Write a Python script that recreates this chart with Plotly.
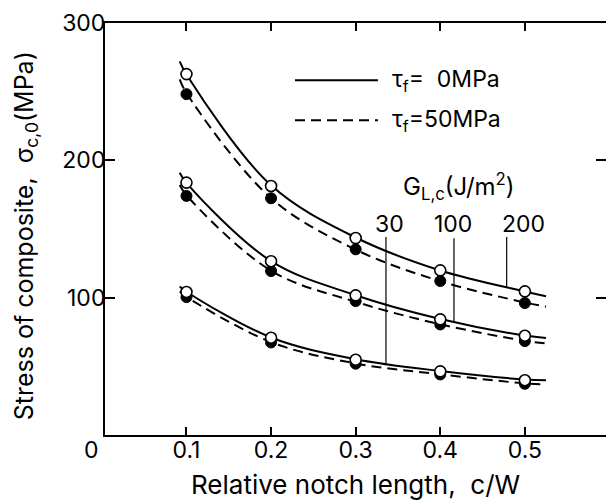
import plotly.graph_objects as go

# ---- data ----
x_pts = [0.1, 0.2, 0.3, 0.4, 0.5]
g200_tau0 = [262.8, 181.3, 143.4, 119.9, 104.6]
g200_tau50 = [248.2, 172.4, 135.2, 112.1, 96.1]
g100_tau0 = [183.8, 126.5, 101.7, 84.2, 72.3]
g100_tau50 = [174.1, 119.4, 97.5, 80.5, 68.4]
g30_tau0 = [104.1, 70.8, 54.8, 46.3, 39.9]
g30_tau50 = [100.4, 67.4, 51.9, 44.1, 37.3]

x_curve = [0.092, 0.1, 0.2, 0.3, 0.4, 0.5, 0.525]
c200_tau0 = [272.0, 262.5, 181.8, 143.8, 119.8, 104.5, 101.0]
c200_tau50 = [259.0, 249.0, 172.4, 135.0, 112.0, 96.5, 93.5]
c100_tau0 = [191.0, 183.6, 126.6, 101.8, 84.5, 72.4, 70.6]
c100_tau50 = [182.0, 174.6, 119.6, 97.0, 80.6, 68.6, 66.7]
c30_tau0 = [108.2, 104.3, 71.0, 55.2, 46.6, 40.4, 39.8]
c30_tau50 = [104.4, 100.6, 67.6, 52.1, 44.2, 37.6, 36.8]

x_ticks = [0.1, 0.2, 0.3, 0.4, 0.5]
x_ticktext = ["0.1", "0.2", "0.3", "0.4", "0.5"]
y_ticks = [100, 200, 300]
y_ticktext = ["100", "200", "300"]

g_labels = ["30", "100", "200"]
g_label_x = [0.3405, 0.4150, 0.4978]
g_label_y = 153.9
g_leader_x = [0.3358, 0.4162, 0.4785]
g_leader_top = [144.2, 143.2, 144.2]
g_leader_bottom = [51.9, 82.2, 107.7]

legend_labels = ["τ<sub>f</sub>=  0MPa", "τ<sub>f</sub>=50MPa"]
legend_dash = ["solid", "10px,6px"]
legend_y = [258.4, 229.2]
legend_x = [0.2283, 0.3263]
legend_text_x = 0.3405

FONT = "Inter, Liberation Sans, Arial, sans-serif"
DASH = "10px,6px"

fig = go.Figure()

curves = [
    (c200_tau0, "solid"), (c200_tau50, DASH),
    (c100_tau0, "solid"), (c100_tau50, DASH),
    (c30_tau0, "solid"), (c30_tau50, DASH),
]
for ys, dash in curves:
    fig.add_trace(go.Scatter(x=x_curve, y=ys, mode="lines",
                             line=dict(color="black", width=2, dash=dash, shape="spline"),
                             showlegend=False, hoverinfo="skip"))

# leader lines for G labels
for lx, top, bot in zip(g_leader_x, g_leader_top, g_leader_bottom):
    fig.add_trace(go.Scatter(x=[lx, lx], y=[top, bot], mode="lines",
                             line=dict(color="black", width=1.2),
                             showlegend=False, hoverinfo="skip"))

# legend sample lines
for ly, dash in zip(legend_y, legend_dash):
    fig.add_trace(go.Scatter(x=legend_x, y=[ly, ly], mode="lines",
                             line=dict(color="black", width=2, dash=dash),
                             showlegend=False, hoverinfo="skip"))

# filled markers (tau_f = 50 MPa)
for ys in [g200_tau50, g100_tau50, g30_tau50]:
    fig.add_trace(go.Scatter(x=x_pts, y=ys, mode="markers",
                             marker=dict(symbol="circle", size=11, color="black",
                                         line=dict(color="black", width=1)),
                             showlegend=False))
# open markers (tau_f = 0 MPa)
for ys in [g200_tau0, g100_tau0, g30_tau0]:
    fig.add_trace(go.Scatter(x=x_pts, y=ys, mode="markers",
                             marker=dict(symbol="circle", size=11, color="white",
                                         line=dict(color="black", width=1.6)),
                             showlegend=False))

# invisible trace for the right-hand tick axis
fig.add_trace(go.Scatter(x=[x_pts[0]], y=[y_ticks[0]], yaxis="y2", mode="markers",
                         marker=dict(opacity=0), showlegend=False, hoverinfo="skip"))

annotations = []
for t, ly in zip(legend_labels, legend_y):
    annotations.append(dict(x=legend_text_x, y=ly, xref="x", yref="y", text=t,
                            showarrow=False, xanchor="left", yanchor="middle",
                            font=dict(family=FONT, size=23, color="black")))
for t, lx in zip(g_labels, g_label_x):
    annotations.append(dict(x=lx, y=g_label_y, xref="x", yref="y", text=t,
                            showarrow=False, xanchor="center", yanchor="middle",
                            font=dict(family=FONT, size=23, color="black")))
annotations.append(dict(x=0.4222, y=180.8, xref="x", yref="y",
                        text="G<sub>L,c</sub>(J/m<sup>2</sup>)",
                        showarrow=False, xanchor="center", yanchor="middle",
                        font=dict(family=FONT, size=24, color="black")))
annotations.append(dict(x=-0.0265, y=-0.0376, xref="paper", yref="paper", text="0",
                        showarrow=False, xanchor="center", yanchor="middle",
                        font=dict(family=FONT, size=23, color="black")))
annotations.append(dict(x=0.3003, y=-0.1638, xref="x", yref="paper",
                        text="Relative notch length,  c/W",
                        showarrow=False, xanchor="center", yanchor="bottom",
                        font=dict(family=FONT, size=26, color="black")))
annotations.append(dict(x=-0.1597, y=145.4, xref="paper", yref="y",
                        text="Stress of composite,  σ<sub>c,0</sub>(MPa)",
                        textangle=-90, showarrow=False, xanchor="center", yanchor="middle",
                        font=dict(family=FONT, size=25, color="black")))

fig.update_layout(
    width=606, height=502,
    margin=dict(l=105, r=0, t=23, b=67),
    plot_bgcolor="white", paper_bgcolor="white",
    showlegend=False,
    font=dict(family=FONT, size=23, color="black"),
    xaxis=dict(range=[0.0037, 0.5959], tickvals=x_ticks, ticktext=x_ticktext,
               ticks="inside", ticklen=8, tickwidth=1.5, tickcolor="black",
               showline=True, linewidth=2, linecolor="black", mirror="ticks",
               showgrid=False, zeroline=False, ticklabelstandoff=-7,
               tickfont=dict(family=FONT, size=23, color="black")),
    yaxis=dict(range=[0, 300], tickvals=y_ticks, ticktext=y_ticktext,
               ticks="inside", ticklen=10, tickwidth=1.5, tickcolor="black",
               showline=True, linewidth=2, linecolor="black", mirror=False,
               showgrid=False, zeroline=False, ticklabelstandoff=-7,
               tickfont=dict(family=FONT, size=23, color="black")),
    yaxis2=dict(range=[0, 300], overlaying="y", side="right",
                tickvals=[100, 200], ticks="inside", ticklen=10, tickwidth=1.5,
                tickcolor="black", showline=False, showticklabels=False,
                showgrid=False, zeroline=False),
    annotations=annotations,
)

fig.write_html("out.html")
